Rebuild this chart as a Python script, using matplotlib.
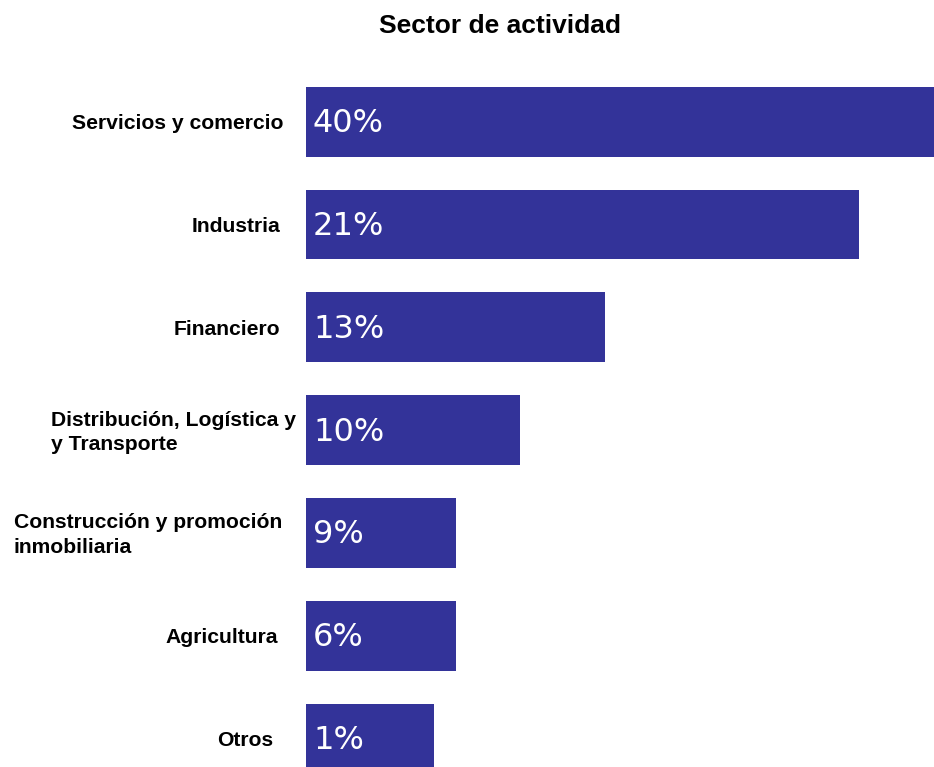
import matplotlib
matplotlib.use("Agg")
import matplotlib.pyplot as plt

categories = [
    "Servicios y comercio",
    "Industria",
    "Financiero",
    "Distribución, Logística y\ny Transporte",
    "Construcción y promoción\ninmobiliaria",
    "Agricultura",
    "Otros",
]
percent_labels = ["40%", "21%", "13%", "10%", "9%", "6%", "1%"]
# drawn bar lengths (the original chart's bars are not proportional to the labels)
bar_lengths = [628, 553, 299, 214, 150, 150, 128]

W, H, DPI = 934, 767, 100
fig = plt.figure(figsize=(W / DPI, H / DPI), dpi=DPI)
fig.patch.set_facecolor("white")

ax = fig.add_axes([306 / W, 0, 628 / W, 1])
pos = list(range(len(categories)))
ax.barh(pos, bar_lengths, height=0.68, color="#333399", edgecolor="none")
ax.set_xlim(0, 628)
ax.set_ylim(6.277, -1.184)
ax.axis("off")

for p, lab in zip(pos, percent_labels):
    ax.text(7, p + 0.02, lab, color="white", fontsize=23, family="DejaVu Sans",
            va="center", ha="left")

label_right = [-23, -26, -26, -10, -24, -28, -33]
for p, cat, xr in zip(pos, categories, label_right):
    ax.text(xr, p + 0.02, cat, fontsize=15.2, fontweight="bold", family="Liberation Sans",
            va="center", ha="right", multialignment="left", linespacing=1.35,
            color="black")

fig.text(500 / W, 1 - 26 / H, "Sector de actividad", fontsize=19, fontweight="bold",
         family="Liberation Sans", ha="center", va="center")

fig.savefig("out.png", dpi=DPI)
